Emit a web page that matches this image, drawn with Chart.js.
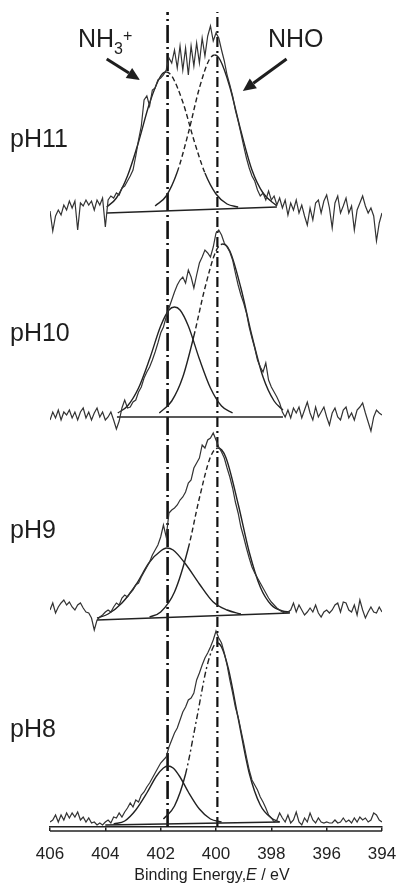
<!DOCTYPE html>
<html>
<head>
<meta charset="utf-8">
<script src="https://cdn.jsdelivr.net/npm/chart.js@4.4.0/dist/chart.umd.min.js"></script>
<style>
  html, body { margin: 0; padding: 0; background: #fff; }
  #wrap { width: 397px; height: 885px; }
</style>
</head>
<body>
<div id="wrap"><canvas id="xps"></canvas></div>
<script>
// binding energy grid (eV), shared by the four raw spectra
const energy = [
  406,405.9,405.8,405.7,405.6,405.5,405.4,405.3,405.2,405.1,
  405,404.9,404.8,404.7,404.6,404.5,404.4,404.3,404.2,404.1,
  404,403.9,403.8,403.7,403.6,403.5,403.4,403.3,403.2,403.1,
  403,402.9,402.8,402.7,402.6,402.5,402.4,402.3,402.2,402.1,
  402,401.9,401.8,401.7,401.6,401.5,401.4,401.3,401.2,401.1,
  401,400.9,400.8,400.7,400.6,400.5,400.4,400.3,400.2,400.1,
  400,399.9,399.8,399.7,399.6,399.5,399.4,399.3,399.2,399.1,
  399,398.9,398.8,398.7,398.6,398.5,398.4,398.3,398.2,398.1,
  398,397.9,397.8,397.7,397.6,397.5,397.4,397.3,397.2,397.1,
  397,396.9,396.8,396.7,396.6,396.5,396.4,396.3,396.2,396.1,
  396,395.9,395.8,395.7,395.6,395.5,395.4,395.3,395.2,395.1,
  395,394.9,394.8,394.7,394.6,394.5,394.4,394.3,394.2,394.1,
  394
];

// raw N1s intensities (arb. units)
const raw_pH11 = [
  2,-18,-3,3,-2,8,3,12,5,12,
  -17,10,7,13,8,12,3,13,8,15,
  -14,13,17,15,20,18,25,27,32,37,
  43,57,73,87,113,117,107,123,125,133,
  135,138,143,155,150,163,145,167,143,165,
  138,167,147,170,150,175,157,177,187,172,
  180,175,163,152,138,128,117,103,92,80,
  67,55,45,37,32,23,17,20,13,22,
  13,17,8,15,5,13,-2,10,3,13,
  0,8,-3,-12,5,-7,10,13,0,12,
  18,5,-15,10,17,0,7,15,0,7,
  -17,3,10,17,7,0,5,-3,-28,-10,
  0
];
const raw_pH10 = [
  -3,5,-1,7,-3,5,2,7,-1,5,
  -3,5,9,-1,5,-3,4,9,0,5,
  -3,0,5,-3,-12,-4,9,17,9,10,
  15,17,25,30,39,45,50,57,65,74,
  84,90,100,109,117,125,132,137,140,134,
  147,140,129,142,154,160,167,164,160,170,
  184,187,182,174,170,165,157,144,132,122,
  114,104,90,79,69,57,50,45,54,37,
  30,25,20,14,5,0,7,-1,9,4,
  10,-1,7,15,4,-3,10,0,5,10,
  0,-8,4,9,0,-3,7,10,-1,4,
  -3,7,10,14,4,-5,-14,0,7,4,
  2
];
const raw_pH9 = [
  9,16,6,12,16,19,14,17,12,9,
  14,16,11,7,6,1,-11,-1,2,4,
  7,9,7,12,16,14,21,24,22,26,
  29,34,36,42,47,52,57,64,69,74,
  82,94,82,106,109,111,114,119,122,127,
  136,139,151,156,161,174,171,179,181,186,
  179,172,167,161,151,142,131,117,106,92,
  82,71,61,52,46,41,36,31,26,21,
  17,14,11,9,7,6,7,9,16,7,
  14,9,4,7,11,7,14,6,2,7,
  9,6,9,14,16,7,17,16,9,7,
  14,4,19,9,1,7,12,7,6,12,
  7
];
const raw_pH8 = [
  1,3,8,1,8,3,10,5,10,6,
  11,3,6,1,5,0,1,-2,0,-2,
  1,3,0,6,5,10,6,11,15,20,
  16,23,21,28,31,36,40,45,50,55,
  60,63,66,76,83,90,95,103,111,116,
  123,125,130,143,150,158,165,170,176,183,
  192,185,180,170,158,143,130,116,106,93,
  80,66,53,43,38,33,26,21,15,8,
  5,1,3,10,5,1,8,0,3,11,
  1,-2,5,1,10,3,0,5,1,0,
  1,0,0,3,0,1,5,1,3,0,
  5,1,6,3,5,1,3,10,8,3,
  1
];

// linear backgrounds
const base_pH11_E = [403.95, 397.8];  const base_pH11_I = [0, 6];
const base_pH10_E = [403.58, 397.58]; const base_pH10_I = [0, 0];
const base_pH9_E  = [404.3, 397.33];  const base_pH9_I  = [-1, 6];
const base_pH8_E  = [404.0, 397.7];   const base_pH8_I  = [-2, 1];

// fitted components (NH3+ and NHO)
const nh3_pH11_E = [403.95, 403.6, 403.2, 402.8, 402.4, 402.0, 401.8, 401.6, 401.2, 400.8, 400.4, 400.0, 399.6, 399.2];
const nh3_pH11_I = [6, 15, 37, 71, 110, 137, 141, 137, 111, 73, 40, 19, 9, 6];
const nho_pH11_E = [402.2, 401.8, 401.4, 401.0, 400.6, 400.25, 400.05, 399.85, 399.5, 399.1, 398.7, 398.3, 397.8];
const nho_pH11_I = [7, 17, 41, 80, 125, 153, 158, 153, 126, 82, 43, 20, 7];

const nh3_pH10_E = [403.55, 403.2, 402.8, 402.4, 402.0, 401.7, 401.5, 401.3, 401.0, 400.6, 400.2, 399.8, 399.4];
const nh3_pH10_I = [4, 11, 29, 58, 91, 107, 110, 107, 91, 58, 29, 11, 4];
const nho_pH10_E = [402.05, 401.6, 401.2, 400.8, 400.4, 400.0, 399.75, 399.5, 399.1, 398.7, 398.3, 397.9, 397.58];
const nho_pH10_I = [4, 16, 40, 81, 129, 166, 173, 166, 129, 81, 40, 16, 7];

const nh3_pH9_E = [404.3, 403.9, 403.4, 402.9, 402.4, 402.0, 401.78, 401.55, 401.1, 400.6, 400.1, 399.6, 399.1];
const nh3_pH9_I = [1, 5, 16, 34, 57, 68, 71, 69, 55, 35, 17, 9, 5];
const nho_pH9_E = [402.4, 402.0, 401.5, 401.0, 400.6, 400.2, 399.93, 399.65, 399.2, 398.8, 398.4, 398.0, 397.6, 397.33];
const nho_pH9_I = [2, 7, 27, 71, 121, 162, 171, 162, 115, 67, 32, 14, 8, 7];

const nh3_pH8_E = [403.7, 403.3, 402.9, 402.5, 402.15, 401.9, 401.74, 401.55, 401.3, 401.0, 400.6, 400.2, 399.8];
const nh3_pH8_I = [-1, 2, 13, 30, 47, 55, 57, 55, 46, 31, 14, 4, 1];
const nho_pH8_E = [401.9, 401.5, 401.1, 400.7, 400.35, 400.1, 399.95, 399.8, 399.55, 399.2, 398.8, 398.4, 398.0, 397.7];
const nho_pH8_I = [4, 17, 49, 104, 154, 176, 180, 176, 154, 105, 50, 18, 5, 1];

// peak positions marked by the vertical lines (eV)
const peakNH3 = 401.75;
const peakNHO = 399.95;

const spectrumNames = ['pH11', 'pH10', 'pH9', 'pH8'];

// ---- layout (stack offsets, text spots) ----
const offsets = { pH11: 614, pH10: 410, pH9: 208, pH8: 4 };
const INK = '#222';

function pts(xs, ys, off) {
  return xs.map((x, i) => ({ x: x, y: ys[i] + off }));
}

// dashed part of a component on its inner flank
function innerDash(center, side, minY, pattern) {
  return ctx => {
    const a = ctx.p0.parsed, b = ctx.p1.parsed;
    const inner = side > 0 ? (a.x >= center - 0.01 && b.x >= center - 0.01)
                           : (a.x <= center + 0.01 && b.x <= center + 0.01);
    return inner && Math.min(a.y, b.y) >= minY ? pattern : undefined;
  };
}

const fits = {
  pH11: { raw: raw_pH11, bE: base_pH11_E, bI: base_pH11_I, aE: nh3_pH11_E, aI: nh3_pH11_I, nE: nho_pH11_E, nI: nho_pH11_I,
          aDash: { c: 401.8, side: -1, h: 30 }, nDash: { c: 400.05, side: 1, h: 30 }, pat: [5, 3] },
  pH10: { raw: raw_pH10, bE: base_pH10_E, bI: base_pH10_I, aE: nh3_pH10_E, aI: nh3_pH10_I, nE: nho_pH10_E, nI: nho_pH10_I,
          aDash: null, nDash: { c: 399.75, side: 1, h: 45 }, pat: [5, 3] },
  pH9:  { raw: raw_pH9, bE: base_pH9_E, bI: base_pH9_I, aE: nh3_pH9_E, aI: nh3_pH9_I, nE: nho_pH9_E, nI: nho_pH9_I,
          aDash: null, nDash: { c: 399.93, side: 1, h: 30 }, pat: [5, 3] },
  pH8:  { raw: raw_pH8, bE: base_pH8_E, bI: base_pH8_I, aE: nh3_pH8_E, aI: nh3_pH8_I, nE: nho_pH8_E, nI: nho_pH8_I,
          aDash: null, nDash: { c: 399.95, side: 1, h: 35 }, pat: [6, 3, 2, 3] }
};

const datasets = [];
spectrumNames.forEach(name => {
  const f = fits[name];
  const off = offsets[name];
  datasets.push({
    label: name, data: pts(energy, f.raw, off),
    borderColor: '#333', borderWidth: 1.2, pointRadius: 0, tension: 0
  });
  datasets.push({
    label: name + ' bg', data: pts(f.bE, f.bI, off),
    borderColor: INK, borderWidth: 1.4, pointRadius: 0
  });
  const a = {
    label: name + ' NH3+', data: pts(f.aE, f.aI, off),
    borderColor: INK, borderWidth: 1.4, pointRadius: 0, cubicInterpolationMode: 'monotone'
  };
  if (f.aDash) a.segment = { borderDash: innerDash(f.aDash.c, f.aDash.side, off + f.aDash.h, f.pat) };
  datasets.push(a);
  datasets.push({
    label: name + ' NHO', data: pts(f.nE, f.nI, off),
    borderColor: INK, borderWidth: 1.4, pointRadius: 0, cubicInterpolationMode: 'monotone',
    segment: { borderDash: innerDash(f.nDash.c, f.nDash.side, off + f.nDash.h, f.pat) }
  });
});

// vertical peak markers
datasets.push({
  label: 'NH3+ line', data: [{ x: peakNH3, y: 0 }, { x: peakNH3, y: 815 }],
  borderColor: '#111', borderWidth: 2.6, borderDash: [18, 4, 2, 4], pointRadius: 0
});
datasets.push({
  label: 'NHO line', data: [{ x: peakNHO, y: 0 }, { x: peakNHO, y: 815 }],
  borderColor: '#111', borderWidth: 2.2, borderDash: [10, 4, 2, 4], pointRadius: 0
});

// annotations
const textLabels = [
  ['pH11', 10, 147], ['pH10', 10, 341], ['pH9', 10, 538], ['pH8', 10, 737]
];
const arrows = [
  { from: [403.95, 768], to: [402.75, 747] },
  { from: [397.45, 768], to: [399.03, 736] }
];

const FONT = '"Liberation Sans", Arial, Helvetica, sans-serif';

const decor = {
  id: 'decor',
  afterDraw(chart) {
    const ctx = chart.ctx;
    const xs = chart.scales.x, ys = chart.scales.y;
    const area = chart.chartArea;
    ctx.save();
    // lower rail of the axis
    ctx.strokeStyle = INK;
    ctx.lineWidth = 1.5;
    ctx.beginPath();
    ctx.moveTo(area.left, area.bottom + 4);
    ctx.lineTo(area.right, area.bottom + 4);
    ctx.stroke();

    ctx.fillStyle = '#1e1e1e';
    ctx.textBaseline = 'alphabetic';
    ctx.textAlign = 'left';
    ctx.font = '25px ' + FONT;
    textLabels.forEach(t => ctx.fillText(t[0], t[1], t[2]));

    // NH3+
    let x = 78;
    ctx.fillText('NH', x, 47);
    x += ctx.measureText('NH').width;
    ctx.font = '16px ' + FONT;
    ctx.fillText('3', x, 54);
    x += ctx.measureText('3').width;
    ctx.fillText('+', x, 41);
    ctx.font = '25px ' + FONT;
    ctx.fillText('NHO', 268, 47);

    // arrows
    ctx.strokeStyle = '#1e1e1e';
    ctx.lineWidth = 3;
    arrows.forEach(a => {
      const x0 = xs.getPixelForValue(a.from[0]), y0 = ys.getPixelForValue(a.from[1]);
      const x1 = xs.getPixelForValue(a.to[0]), y1 = ys.getPixelForValue(a.to[1]);
      const ang = Math.atan2(y1 - y0, x1 - x0);
      const hl = 13, hw = 6;
      const bx = x1 - hl * Math.cos(ang), by = y1 - hl * Math.sin(ang);
      ctx.beginPath();
      ctx.moveTo(x0, y0);
      ctx.lineTo(bx, by);
      ctx.stroke();
      ctx.beginPath();
      ctx.moveTo(x1, y1);
      ctx.lineTo(bx + hw * Math.sin(ang), by - hw * Math.cos(ang));
      ctx.lineTo(bx - hw * Math.sin(ang), by + hw * Math.cos(ang));
      ctx.closePath();
      ctx.fill();
    });

    // axis title with italic E
    const parts = [['Binding Energy,', 'normal'], ['E', 'italic'], [' / eV', 'normal']];
    let w = 0;
    parts.forEach(p => { ctx.font = p[1] + ' 16px ' + FONT; w += ctx.measureText(p[0]).width; });
    let tx = 212 - w / 2;
    parts.forEach(p => {
      ctx.font = p[1] + ' 16px ' + FONT;
      ctx.fillText(p[0], tx, 880);
      tx += ctx.measureText(p[0]).width;
    });
    ctx.restore();
  }
};

new Chart(document.getElementById('xps').getContext('2d'), {
  type: 'line',
  data: { datasets: datasets },
  options: {
    responsive: true,
    maintainAspectRatio: false,
    animation: false,
    devicePixelRatio: 1,
    layout: { padding: { left: 50, right: 15, top: 0, bottom: 0 } },
    plugins: { legend: { display: false }, tooltip: { enabled: false } },
    scales: {
      x: {
        type: 'linear', min: 394, max: 406, reverse: true,
        afterFit: s => { s.height = 58; s.paddingLeft = 0; s.paddingRight = 0; },
        border: { display: true, color: INK, width: 1.5 },
        grid: { drawOnChartArea: false, drawTicks: true, tickLength: 4, color: INK, lineWidth: 1.5 },
        ticks: { stepSize: 2, padding: 13, color: INK, font: { size: 17, family: FONT } }
      },
      y: { type: 'linear', min: 0, max: 827, display: false }
    }
  },
  plugins: [decor]
});
</script>
</body>
</html>
